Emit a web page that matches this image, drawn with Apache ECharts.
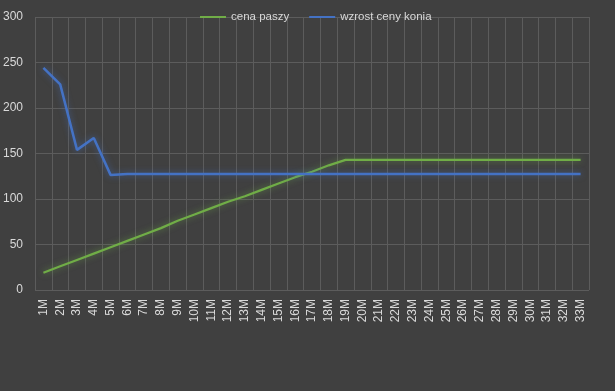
<!DOCTYPE html>
<html><head><meta charset="utf-8">
<script src="https://cdn.jsdelivr.net/npm/echarts@6/dist/echarts.min.js"></script>
<style>html,body{margin:0;padding:0;background:#404040;}#c{width:615px;height:391px;}</style>
</head><body><div id="c"></div>
<script>
const categories = ["1M","2M","3M","4M","5M","6M","7M","8M","9M","10M","11M","12M","13M","14M","15M","16M","17M","18M","19M","20M","21M","22M","23M","24M","25M","26M","27M","28M","29M","30M","31M","32M","33M"];
const cenaPaszy = [19,26,33,40,47,54,61,68,76,83,90,97,103,110,117,124,130,137,143,143,143,143,143,143,143,143,143,143,143,143,143,143,143];
const wzrostCenyKonia = [244,226,154,167,126.5,127.5,127.5,127.5,127.5,127.5,127.5,127.5,127.5,127.5,127.5,127.5,127.5,127.5,127.5,127.5,127.5,127.5,127.5,127.5,127.5,127.5,127.5,127.5,127.5,127.5,127.5,127.5,127.5];
const yTicks = {min:0, max:300, interval:50};

const chart = echarts.init(document.getElementById('c'));
const textColor = '#d9d9d9';
const gridColor = '#5c5c5c';
chart.setOption({
  backgroundColor: '#404040',
  animation: false,
  textStyle: {fontFamily: 'Liberation Sans, Arial, sans-serif'},
  legend: {
    top: 6, left: 195, itemWidth: 26, itemHeight: 2, itemGap: 20,
    icon: 'rect',
    textStyle: {color: textColor, fontSize: 11.5},
    data: ['cena paszy', 'wzrost ceny konia']
  },
  grid: {left: 30, right: 26, top: 17, bottom: 101, containLabel: false},
  xAxis: {
    type: 'category', data: categories, boundaryGap: true,
    axisLine: {show: false}, axisTick: {show: false},
    splitLine: {show: true, interval: 0, lineStyle: {color: gridColor, width: 1}},
    axisLabel: {rotate: 90, interval: 0, color: textColor, fontSize: 12, margin: 9}
  },
  yAxis: {
    type: 'value', min: yTicks.min, max: yTicks.max, interval: yTicks.interval,
    axisLine: {show: false}, axisTick: {show: false},
    splitLine: {lineStyle: {color: gridColor, width: 1}},
    axisLabel: {color: textColor, fontSize: 12, margin: 12}
  },
  series: [
    {name: 'cena paszy', type: 'line', data: cenaPaszy, symbol: 'none',
     itemStyle: {color: '#70ad47'},
     lineStyle: {color: '#70ad47', width: 2.2, shadowColor: 'rgba(112,173,71,0.6)', shadowBlur: 6}},
    {name: 'wzrost ceny konia', type: 'line', data: wzrostCenyKonia, symbol: 'none',
     itemStyle: {color: '#4472c4'},
     lineStyle: {color: '#4472c4', width: 2.5, shadowColor: 'rgba(68,114,196,0.6)', shadowBlur: 6}}
  ]
});
</script></body></html>
